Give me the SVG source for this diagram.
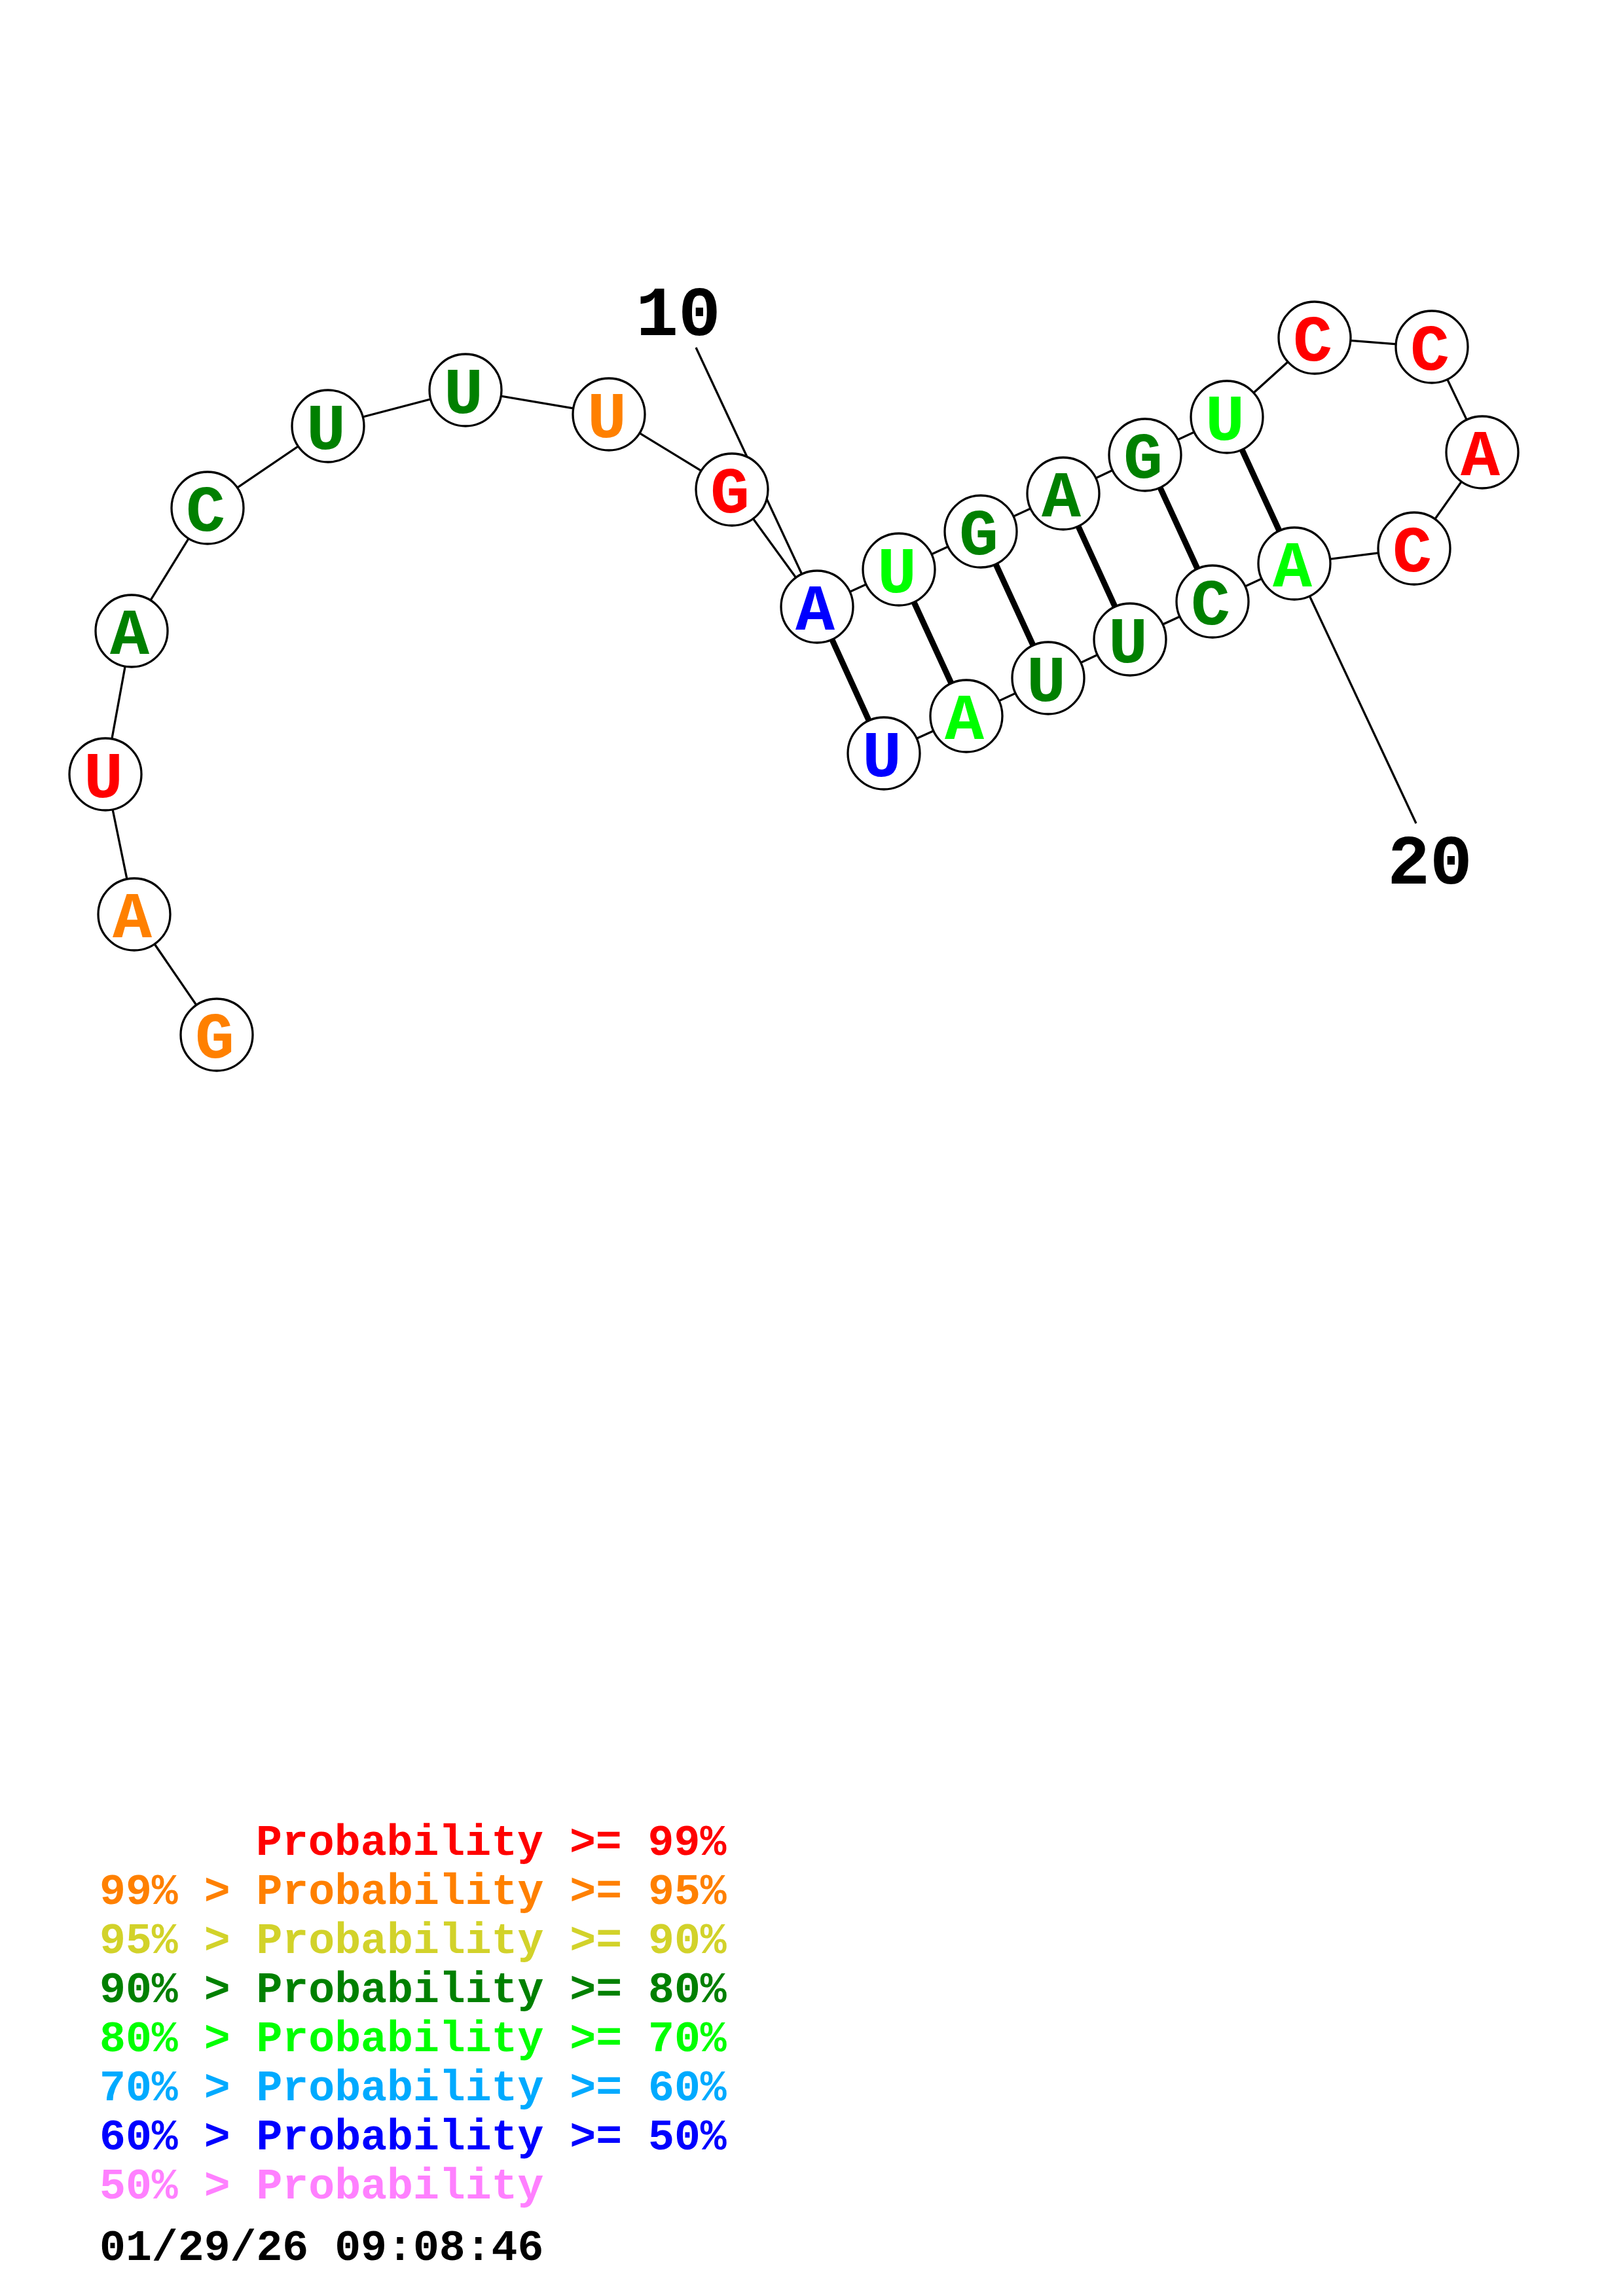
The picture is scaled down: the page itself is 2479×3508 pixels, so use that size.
<svg xmlns="http://www.w3.org/2000/svg" width="2479" height="3508" viewBox="0 0 2479 3508">
<style>
.bb{stroke:#000;stroke-width:3.3;fill:none}
.bp{stroke:#000;stroke-width:9;fill:none}
.nd{fill:#fff;stroke:#000;stroke-width:3.3}
.lt{font-family:"Liberation Mono","Courier New",monospace;font-weight:bold;font-size:100px;text-anchor:middle}
.num{font-family:"Liberation Mono","Courier New",monospace;font-weight:bold;font-size:108px;text-anchor:middle;fill:#000}
.lg{font-family:"Liberation Mono","Courier New",monospace;font-weight:bold;font-size:66.5px}
.r{fill:#FF0000}.o{fill:#FF8000}.y{fill:#D2D22A}.g{fill:#008000}.l{fill:#00FF00}.c{fill:#00AAFF}.b{fill:#0000FF}.p{fill:#FF80FF}.k{fill:#000}
</style>
<rect width="2479" height="3508" fill="#fff"/>
<g id="connectors">
<polyline class="bb" points="331,1581 205,1397 161,1183 201,964 317,776 501,651 711,596 930,633 1118,748 1248,927 1373,870 1498,812 1624,754 1749,695 1874,637 2008,516 2187,530 2264,691 2160,838 1977,861 1852,919 1726,977 1601,1036 1476,1094 1350,1151"/>
<line class="bp" x1="1248" y1="927" x2="1350" y2="1151"/>
<line class="bp" x1="1373" y1="870" x2="1476" y2="1094"/>
<line class="bp" x1="1498" y1="812" x2="1601" y2="1036"/>
<line class="bp" x1="1624" y1="754" x2="1726" y2="977"/>
<line class="bp" x1="1749" y1="695" x2="1852" y2="919"/>
<line class="bp" x1="1874" y1="637" x2="1977" y2="861"/>
<line class="bb" x1="1248" y1="927" x2="1063" y2="531"/>
<line class="bb" x1="1977" y1="861" x2="2163" y2="1258"/>
</g>
<g id="n1"><circle class="nd" cx="331" cy="1581" r="55"/><text class="lt o" x="328" y="1616">G</text></g>
<g id="n2"><circle class="nd" cx="205" cy="1397" r="55"/><text class="lt o" x="202" y="1432">A</text></g>
<g id="n3"><circle class="nd" cx="161" cy="1183" r="55"/><text class="lt r" x="158" y="1218">U</text></g>
<g id="n4"><circle class="nd" cx="201" cy="964" r="55"/><text class="lt g" x="198" y="999">A</text></g>
<g id="n5"><circle class="nd" cx="317" cy="776" r="55"/><text class="lt g" x="314" y="811">C</text></g>
<g id="n6"><circle class="nd" cx="501" cy="651" r="55"/><text class="lt g" x="498" y="686">U</text></g>
<g id="n7"><circle class="nd" cx="711" cy="596" r="55"/><text class="lt g" x="708" y="631">U</text></g>
<g id="n8"><circle class="nd" cx="930" cy="633" r="55"/><text class="lt o" x="927" y="668">U</text></g>
<g id="n9"><circle class="nd" cx="1118" cy="748" r="55"/><text class="lt r" x="1115" y="783">G</text></g>
<g id="n10"><circle class="nd" cx="1248" cy="927" r="55"/><text class="lt b" x="1245" y="962">A</text></g>
<g id="n11"><circle class="nd" cx="1373" cy="870" r="55"/><text class="lt l" x="1370" y="905">U</text></g>
<g id="n12"><circle class="nd" cx="1498" cy="812" r="55"/><text class="lt g" x="1495" y="847">G</text></g>
<g id="n13"><circle class="nd" cx="1624" cy="754" r="55"/><text class="lt g" x="1621" y="789">A</text></g>
<g id="n14"><circle class="nd" cx="1749" cy="695" r="55"/><text class="lt g" x="1746" y="730">G</text></g>
<g id="n15"><circle class="nd" cx="1874" cy="637" r="55"/><text class="lt l" x="1871" y="672">U</text></g>
<g id="n16"><circle class="nd" cx="2008" cy="516" r="55"/><text class="lt r" x="2005" y="551">C</text></g>
<g id="n17"><circle class="nd" cx="2187" cy="530" r="55"/><text class="lt r" x="2184" y="565">C</text></g>
<g id="n18"><circle class="nd" cx="2264" cy="691" r="55"/><text class="lt r" x="2261" y="726">A</text></g>
<g id="n19"><circle class="nd" cx="2160" cy="838" r="55"/><text class="lt r" x="2157" y="873">C</text></g>
<g id="n20"><circle class="nd" cx="1977" cy="861" r="55"/><text class="lt l" x="1974" y="896">A</text></g>
<g id="n21"><circle class="nd" cx="1852" cy="919" r="55"/><text class="lt g" x="1849" y="954">C</text></g>
<g id="n22"><circle class="nd" cx="1726" cy="977" r="55"/><text class="lt g" x="1723" y="1012">U</text></g>
<g id="n23"><circle class="nd" cx="1601" cy="1036" r="55"/><text class="lt g" x="1598" y="1071">U</text></g>
<g id="n24"><circle class="nd" cx="1476" cy="1094" r="55"/><text class="lt l" x="1473" y="1129">A</text></g>
<g id="n25"><circle class="nd" cx="1350" cy="1151" r="55"/><text class="lt b" x="1347" y="1186">U</text></g>
<g id="labels">
<text class="num" x="1036" y="512">10</text>
<text class="num" x="2184" y="1350">20</text>
</g>
<g id="legend">
<text class="lg r" x="391" y="2834">Probability &gt;= 99%</text>
<text class="lg o" x="152" y="2909">99% &gt; Probability &gt;= 95%</text>
<text class="lg y" x="152" y="2984">95% &gt; Probability &gt;= 90%</text>
<text class="lg g" x="152" y="3059">90% &gt; Probability &gt;= 80%</text>
<text class="lg l" x="152" y="3134">80% &gt; Probability &gt;= 70%</text>
<text class="lg c" x="152" y="3209">70% &gt; Probability &gt;= 60%</text>
<text class="lg b" x="152" y="3284">60% &gt; Probability &gt;= 50%</text>
<text class="lg p" x="152" y="3359">50% &gt; Probability</text>
<text class="lg k" x="152" y="3453">01/29/26 09:08:46</text>
</g>
</svg>
